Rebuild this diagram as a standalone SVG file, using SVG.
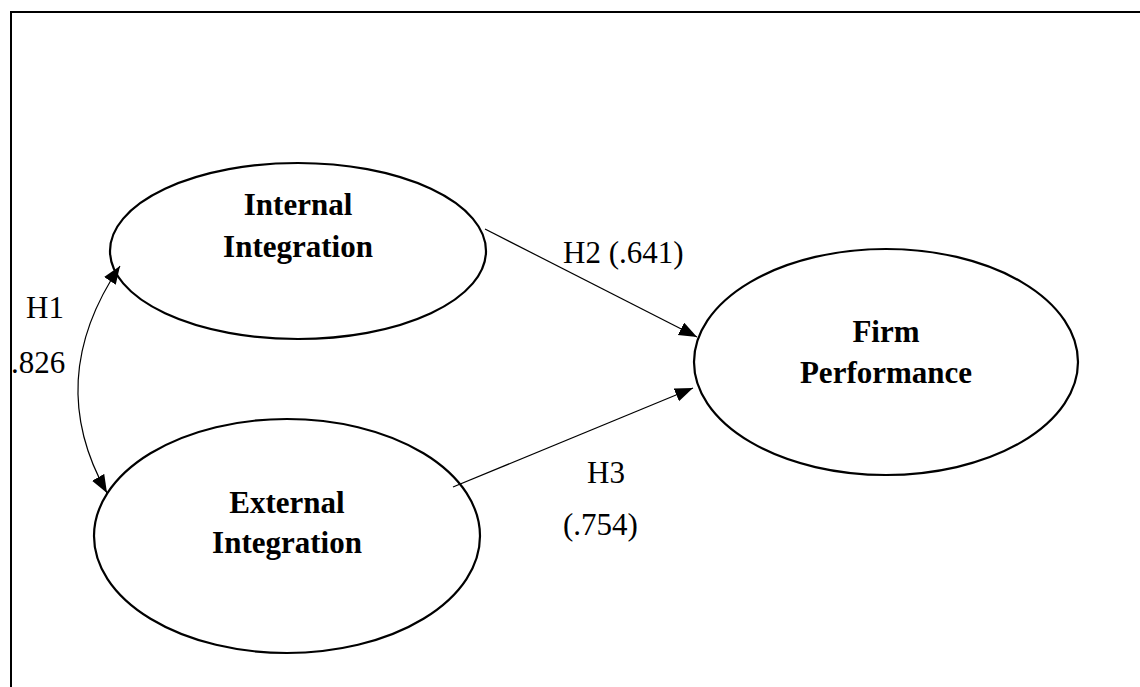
<svg xmlns="http://www.w3.org/2000/svg" width="1140" height="687" viewBox="0 0 1140 687">
  <style>
    .node { fill: #fff; stroke: #000; stroke-width: 2.2; }
    .title { font-family: "Liberation Serif", "Times New Roman", serif; font-weight: bold; font-size: 31px; fill: #000; text-anchor: middle; }
    .lbl { font-family: "Liberation Serif", "Times New Roman", serif; font-size: 31px; fill: #000; }
    .conn { fill: none; stroke: #000; stroke-width: 1.2; }
  </style>
  <defs>
    <marker id="arrow" markerUnits="userSpaceOnUse" markerWidth="20" markerHeight="16" refX="18" refY="7" orient="auto-start-reverse">
      <path d="M0,0 L18,7 L0,14 z" fill="#000"/>
    </marker>
  </defs>
  <rect width="1140" height="687" fill="#fff"/>
  <path d="M11,687 V12 H1140" fill="none" stroke="#000" stroke-width="2"/>

  <g id="internal-integration">
    <ellipse class="node" cx="298" cy="251" rx="188" ry="88"/>
    <text class="title" x="298" y="215">Internal</text>
    <text class="title" x="298" y="257">Integration</text>
  </g>
  <g id="external-integration">
    <ellipse class="node" cx="287" cy="536" rx="193" ry="117"/>
    <text class="title" x="287" y="513">External</text>
    <text class="title" x="287" y="553">Integration</text>
  </g>
  <g id="firm-performance">
    <ellipse class="node" cx="886" cy="362" rx="192" ry="113"/>
    <text class="title" x="886" y="342">Firm</text>
    <text class="title" x="886" y="383">Performance</text>
  </g>

  <g id="connectors">
    <path class="conn" d="M107,493 Q43,380 120,266" marker-start="url(#arrow)" marker-end="url(#arrow)"/>
    <line class="conn" x1="485" y1="229" x2="697" y2="337" marker-end="url(#arrow)"/>
    <line class="conn" x1="453" y1="487" x2="693" y2="388" marker-end="url(#arrow)"/>
  </g>

  <g id="labels">
    <text class="lbl" x="26" y="318">H1</text>
    <text class="lbl" x="11" y="373">.826</text>
    <text class="lbl" x="563" y="263">H2 (.641)</text>
    <text class="lbl" x="587" y="483">H3</text>
    <text class="lbl" x="563" y="535">(.754)</text>
  </g>
</svg>
